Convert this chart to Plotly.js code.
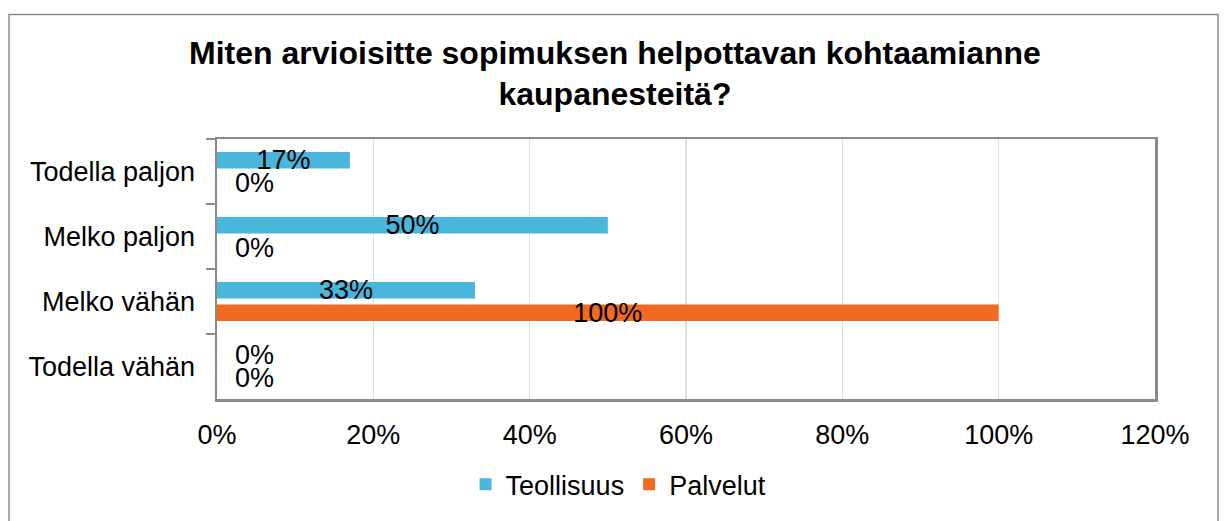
<!DOCTYPE html>
<html>
<head>
<meta charset="utf-8">
<script src="https://cdn.plot.ly/plotly-3.0.1.min.js"></script>
<style>html,body{margin:0;padding:0;background:#fff;}#chart{width:1225px;height:521px;}</style>
</head>
<body>
<div id="chart"></div>
<script>
const categories = ["Todella paljon", "Melko paljon", "Melko vähän", "Todella vähän"];
const teollisuus = [17, 50, 33, 0];
const palvelut = [0, 0, 100, 0];
const seriesNames = ["Teollisuus", "Palvelut"];
const titleText = "Miten arvioisitte sopimuksen helpottavan kohtaamianne<br>kaupanesteitä?";

const FONT = "Liberation Sans, Arial, sans-serif";
const FS = 27;
const pos = v => v.map(x => x === 0 ? "outside" : "inside");
const lbl = v => v.map(x => (x === 0 ? "\u00a0\u00a0" : "") + x + "%");

const traces = [
  {type: "bar", orientation: "h", name: seriesNames[0], y: categories, x: teollisuus,
   marker: {color: "#4BB6DC"}, text: lbl(teollisuus), textposition: pos(teollisuus),
   insidetextanchor: "middle", constraintext: "none", cliponaxis: false,
   textfont: {family: FONT, size: FS, color: "#000"}, hoverinfo: "x+y"},
  {type: "bar", orientation: "h", name: seriesNames[1], y: categories, x: palvelut,
   marker: {color: "#F26922"}, text: lbl(palvelut), textposition: pos(palvelut),
   insidetextanchor: "middle", constraintext: "none", cliponaxis: false,
   textfont: {family: FONT, size: FS, color: "#000"}, hoverinfo: "x+y"}
];

const AX = "#8a8a8a";
const layout = {
  width: 1225, height: 521,
  margin: {l: 217, r: 70, t: 139, b: 117},
  paper_bgcolor: "#fff", plot_bgcolor: "#fff",
  font: {family: FONT, size: FS, color: "#000"},
  barmode: "group", bargap: 0.306, bargroupgap: 0.26,
  showlegend: true,
  title: {text: "<b>" + titleText + "</b>", font: {family: FONT, size: 32, color: "#000"},
          x: 0.502, xref: "container", y: 0.878, yref: "container", yanchor: "top"},
  xaxis: {range: [0, 120], dtick: 20, tick0: 0, ticksuffix: "%", showgrid: true,
          gridcolor: "#dedede", gridwidth: 1.5, showline: true, linecolor: AX, linewidth: 2.5,
          mirror: true, ticks: "", zeroline: false, ticklabelstandoff: 10,
          tickfont: {family: FONT, size: FS, color: "#000"}, fixedrange: true},
  xaxis2: {overlaying: "x", matches: "x", anchor: "y", side: "top", range: [0, 120], dtick: 20, tick0: 0,
           ticks: "outside", ticklen: 8, tickwidth: 2, tickcolor: AX, showticklabels: false,
           showgrid: false, showline: false, zeroline: false},
  yaxis: {autorange: "reversed", type: "category", tickson: "boundaries", ticks: "outside",
          ticklen: 9, tickwidth: 2, tickcolor: AX, showline: true, linecolor: AX, linewidth: 2.5,
          mirror: true, showgrid: false, zeroline: false, ticklabelstandoff: 14,
          tickfont: {family: FONT, size: FS, color: "#000"}, fixedrange: true},
  legend: {orientation: "h", x: 0.265, xanchor: "left", y: -0.33, yanchor: "middle",
           font: {family: FONT, size: FS, color: "#000"}, bgcolor: "rgba(0,0,0,0)", itemwidth: 30},
  shapes: [{type: "rect", xref: "paper", yref: "paper", x0: -0.2217, x1: 1.0672, y0: -0.6, y1: 1.479,
            line: {color: "#8c8c8c", width: 1.5}, fillcolor: "rgba(0,0,0,0)", layer: "below"}]
};

Plotly.newPlot("chart", traces, layout, {displayModeBar: false, staticPlot: true});
</script>
</body>
</html>
